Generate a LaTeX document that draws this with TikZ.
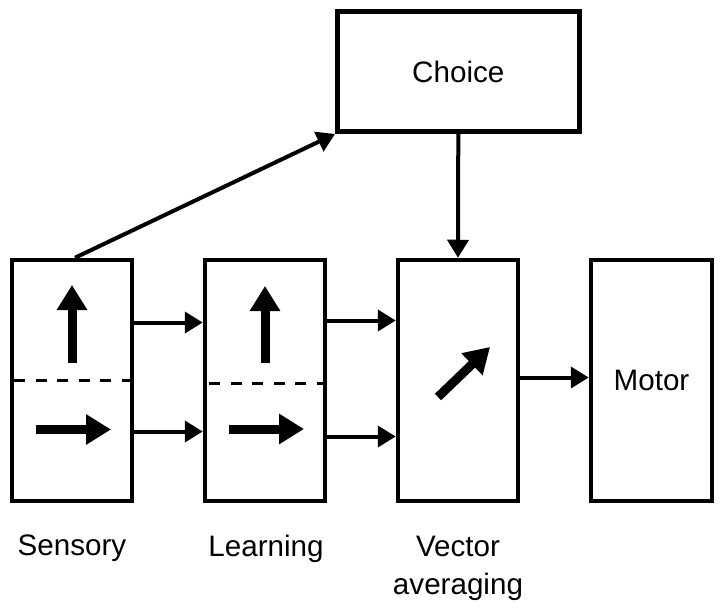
\documentclass[tikz,border=0pt]{standalone}
\usepackage{fontspec}
\setmainfont{Liberation Sans}
\usetikzlibrary{arrows.meta,calc}
\tikzset{
  box/.style={draw, line width=4.5pt, inner sep=0pt, minimum width=120pt, minimum height=241pt, font=\fontsize{29.6}{38}\selectfont},
  conn/.style={line width=4pt, -{Triangle[length=18pt,width=21pt]}},
  blockarrow/.style={line width=9pt, -{Triangle[length=25pt,width=29pt]}},
  divider/.style={line width=3pt, dash pattern=on 11pt off 10.5pt},
  lbl/.style={anchor=north, inner sep=0pt, align=center, font=\fontsize{29.6}{38}\selectfont}
}
\begin{document}
\begin{tikzpicture}[x=1pt,y=-1pt]
\useasboundingbox (0,0) rectangle (724,611);
% boxes
\node[box] (S) at (72,380.5) {};
\node[box] (L) at (265,380.5) {};
\node[box] (V) at (458,380.5) {};
\node[box, minimum width=121pt] (M) at (651.5,380.5) {Motor};
\node[box, minimum width=242pt, minimum height=120pt] (C) at (458.3,71.7) {Choice};
% dividers
\draw[divider] (14,380.7) -- (130,380.7);
\draw[divider] (209,383.3) -- (323,383.3);
% icons
\draw[blockarrow] (72,363) -- (72,285);
\draw[blockarrow] (36,429.5) -- (111,429.5);
\draw[blockarrow] (265,363) -- (265,286);
\draw[blockarrow] (229,429) -- (304,429);
\draw[blockarrow] (438,397) -- (490,347);
% connectors
\draw[conn] ([yshift=58pt]S.east) -- ([yshift=58pt]L.west);
\draw[conn] ([yshift=-51pt]S.east) -- ([yshift=-51pt]L.west);
\draw[conn] ([yshift=60pt]L.east) -- ([yshift=60pt]V.west);
\draw[conn] ([yshift=-56pt]L.east) -- ([yshift=-56pt]V.west);
\draw[conn] ([yshift=3pt]V.east) -- ([yshift=3pt]M.west);
\draw[conn] (C.south) -- (V.north);
\draw[conn] ([xshift=3pt]S.north) -- (C.south west);
% labels
\node[lbl] (ls) at (72,535) {Sensory};
\node[lbl] (ll) at (266,535) {Learning};
\node[lbl] (lv) at (458,536) {Vector\\averaging};
\end{tikzpicture}
\end{document}
